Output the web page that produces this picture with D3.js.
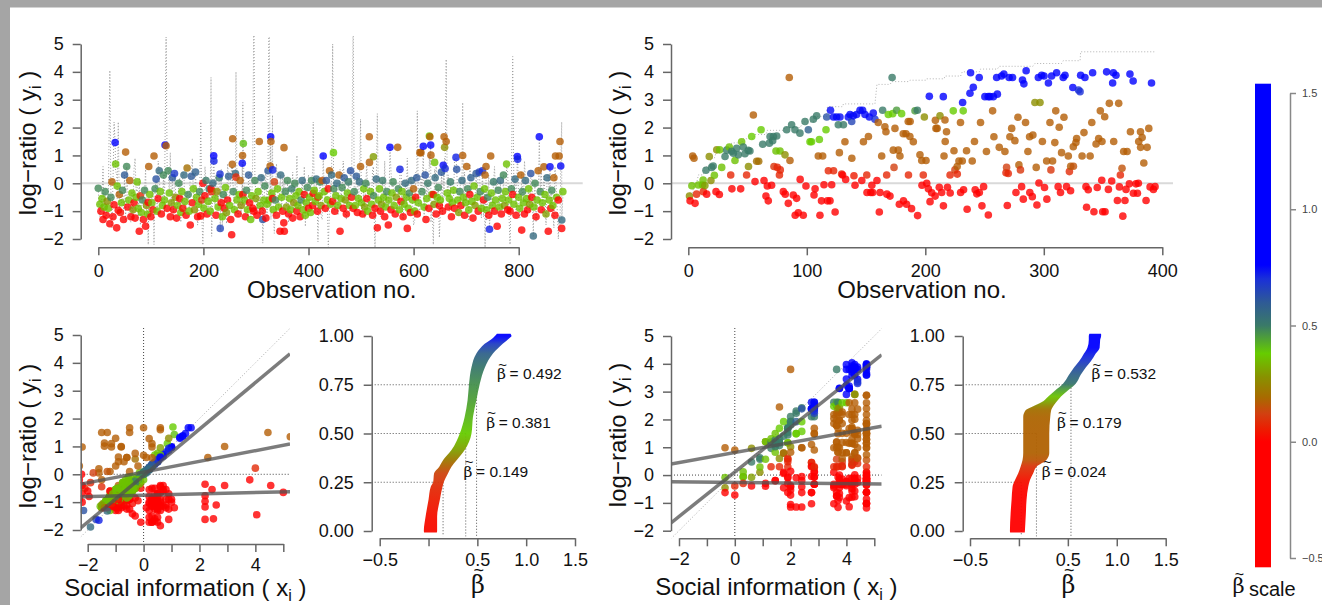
<!DOCTYPE html>
<html>
<head>
<meta charset="utf-8">
<script src="https://cdn.jsdelivr.net/npm/d3@7/dist/d3.min.js"></script>
<style>
html,body{margin:0;padding:0;background:#a5a5a5;overflow:hidden;}
svg{display:block;}
</style>
</head>
<body>
<svg id="chart" width="1322" height="605"></svg>
<script>
// ===================== DATA =====================
// rows: [observation no., log-ratio y, social information x, beta-tilde]
const leftPoints = [
[0,-0.18,-0.3,0.48],[3,-0.75,-1.2,0.36],[5,-1.0,-0.8,-0.05],[7,-0.55,-0.5,0.36],[9,-1.3,0.6,-0.05],[11,-0.85,-1.1,0.36],
[13,-0.3,-0.3,0.48],[15,-1.15,-1.2,-0.05],[17,-0.65,-0.8,0.27],[19,-0.9,-0.7,0.36],[22,-1.45,4.05,-0.05],[24,-0.5,-0.5,0.48],
[26,0.05,-1.6,0.17],[28,-1.2,0.1,0.0],[30,-0.77,2.2,-0.05],[32,1.46,1.5,0.78],[33,0.69,0.4,0.36],[35,-1.6,0.4,-0.05],
[36,-0.1,-0.55,0.36],[38,-0.97,2.2,-0.05],[40,-0.4,-0.9,0.17],[42,-1.05,-0.4,0.02],[44,-0.7,-0.7,0.36],[46,-0.25,-0.3,0.48],
[48,-1.3,-1.0,-0.05],[50,0.3,0.3,0.6],[52,1.12,-1.4,0.17],[54,0.6,0.6,0.48],[56,-0.85,-0.3,-0.05],[58,-0.6,-1.0,0.36],
[60,0.1,-1.2,0.17],[62,-1.2,-1.4,-0.05],[64,-0.35,-0.3,0.36],[66,-0.95,-1.15,0.27],[68,-0.7,0.5,-0.05],[70,-1.25,0.9,-0.05],
[72,-0.5,-0.3,0.36],[74,0.05,-0.15,0.36],[76,-0.9,-1.25,0.36],[78,-1.72,0.2,-0.05],[80,-0.45,-1.5,0.08],[82,-1.05,-1.0,0.36],
[84,-0.6,-0.5,0.48],[86,-1.3,-0.9,-0.05],[88,-0.25,-0.3,0.48],[90,-1.54,0.5,-0.05],[92,-0.8,-1.2,0.27],[94,-1.1,-1.0,0.36],
[95,-0.68,-2.2,-0.05],[96,0.6,-0.6,0.17],[98,-0.4,-0.65,0.36],[100,-1.2,-1.1,-0.05],[102,-0.7,-0.5,0.36],[104,-0.95,-0.2,0.02],
[106,0.98,-2.2,0.17],[108,-0.2,-0.3,0.48],[110,0.15,0.1,0.62],[112,-1.0,-1.1,0.36],[114,-0.55,0.8,-0.05],[116,0.45,0.4,0.55],
[118,-0.3,-0.7,0.36],[120,-1.1,-0.6,-0.05],[122,-0.8,-0.8,0.36],[124,0.3,0.3,0.48],[126,-0.6,-1.05,0.36],[127,1.37,1.4,0.78],
[129,1.35,5.25,0.17],[131,-0.9,0.6,-0.05],[133,0.45,0.5,0.48],[135,-0.35,-0.3,0.36],[137,-1.2,1.1,-0.05],[139,-0.7,-0.95,0.3],
[141,0.2,0.2,0.6],[143,-0.95,-1.3,-0.05],[145,0.35,0.4,0.68],[147,-0.5,-0.3,0.27],[149,-1.25,-0.6,-0.05],[151,-0.8,-0.9,0.36],
[153,0.0,0.0,0.48],[155,-0.55,0.2,-0.05],[157,-1.05,-1.4,0.36],[159,-0.3,-0.3,0.36],[161,-0.9,0.4,0.02],[163,0.3,0.3,0.55],
[165,-0.65,-1.1,0.36],[167,-1.15,-0.7,-0.05],[169,0.55,-0.3,0.2],[171,-0.4,-0.5,0.48],[173,-1.0,-0.9,0.36],[175,-1.5,0.3,-0.05],
[177,0.25,0.3,0.6],[179,-0.7,0.9,-0.05],[181,-0.2,-0.5,0.36],[183,-0.95,-0.7,0.27],[185,0.4,0.4,0.58],[187,-0.5,-0.65,0.36],
[189,-1.2,-1.5,-0.05],[191,-0.75,-1.1,0.36],[193,-0.3,-0.3,0.48],[195,-1.17,2.2,-0.05],[197,-0.6,-1.2,0.1],[199,0.0,-2.22,-0.02],
[201,-0.9,-0.85,0.36],[203,-0.45,0.6,-0.05],[205,0.1,0.1,0.5],[207,-1.1,-1.0,-0.05],[209,-0.65,-1.1,0.36],[211,-0.2,-0.2,0.5],
[213,-1.0,-0.9,0.36],[214.5,-0.2,3.8,-0.05],[215.7,-0.3,-1.9,0.07],[218,0.0,0.0,0.55],[219.6,0.99,1.0,0.78],[220,0.8,0.8,0.72],
[222,-0.55,-0.8,0.36],[224,-1.15,0.3,-0.05],[226,-0.3,-0.1,0.27],[228,-0.85,-1.0,0.36],[230,0.2,0.2,0.5],[231.6,0.33,0.3,0.7],
[232,-1.62,-1.7,0.65],[234,-0.7,0.5,-0.05],[236,-1.2,-1.5,0.36],[238,-0.4,-0.4,0.48],[240,-0.9,-0.5,-0.05],[242,-0.15,-0.2,0.36],
[244,-1.05,-1.45,0.3],[246,-0.6,0.7,-0.05],[248,0.25,0.2,0.58],[250,-0.8,-0.7,0.36],[252,-1.3,0.2,-0.05],[253.8,-1.85,0.6,-0.05],
[255,0.68,0.0,0.17],[255.7,1.6,0.6,0.17],[257,-0.3,-0.3,0.48],[259,-0.95,-1.15,0.36],[261,0.35,0.3,0.55],[262,0.22,4.0,0.08],
[264,-0.6,-0.4,0.36],[266,-1.1,-1.2,-0.05],[268,-0.4,-0.55,0.36],[270,0.1,-0.5,0.17],[272,-0.8,-1.2,0.27],[274,0.72,0.7,0.75],
[274.5,1.0,-0.8,0.17],[275,-0.4,2.9,-0.05],[276,1.43,1.1,0.4],[278,-0.6,-0.6,0.36],[280,-1.2,-0.8,-0.05],[282,-0.25,-0.3,0.48],
[284,-0.95,-1.35,0.36],[286,0.3,0.3,0.6],[288,-0.7,0.4,-0.05],[290,-1.3,-1.2,0.36],[292,-0.45,-0.7,0.36],[294,-0.9,1.0,-0.05],
[296,-1.0,6.5,-0.05],[298,0.1,0.1,0.48],[300,-0.55,-0.35,0.3],[302,-1.15,-1.1,-0.05],[304,-0.3,-0.45,0.36],[306.4,1.5,-0.5,0.17],
[308,-0.8,-1.15,0.36],[310,0.2,0.2,0.55],[312,-1.0,0.3,-0.05],[313,-1.3,-2.15,0.62],[315,-0.6,-0.6,0.36],[317,-0.1,-0.1,0.48],
[319,-1.25,0.5,-0.05],[321,-0.75,-1.2,0.36],[323,0.45,0.5,0.6],[325,-0.6,7.2,0.36],[327,0.62,-0.9,0.17],[328,1.67,1.7,0.78],
[328.5,1.5,-1.3,0.17],[330,-0.35,-0.3,0.36],[331.5,-0.55,2.45,-0.05],[331.8,0.48,0.5,0.72],[333,-0.95,-1.15,0.36],[335,0.05,-1.8,0.12],
[337,-0.6,-0.6,0.48],[339,-1.15,0.7,-0.05],[341,-0.2,0.0,0.36],[343,-0.85,-0.95,0.36],[345.8,-1.72,-0.1,-0.05],[347,0.3,0.3,0.55],
[349,-0.5,-0.9,0.36],[351,-1.0,0.2,0.0],[353,-1.42,-0.4,-0.05],[353.4,1.28,0.2,0.17],[354,-1.72,0.3,-0.05],[356,-0.3,-0.3,0.48],
[358,-0.85,-0.8,0.3],[360,0.1,0.1,0.48],[362,-1.1,-1.4,-0.05],[364,-0.55,-1.0,0.36],[366,-0.95,-0.85,0.36],[368,-0.2,-0.2,0.5],
[370,-1.25,0.4,-0.05],[372,-0.7,-0.95,0.27],[374,0.0,-0.1,0.48],[376,-0.45,-0.25,0.36],[378,-1.0,1.0,-0.05],[380,-0.8,-0.9,0.36],
[382,-0.3,-0.7,0.36],[384,-1.2,-0.9,-0.05],[386,-0.6,-0.6,0.48],[388,0.1,0.1,0.55],[390,-0.95,-0.9,0.36],[392,-0.4,0.6,-0.05],
[394,-1.15,-1.55,0.36],[396,-0.7,-0.6,0.36],[398,-0.15,-0.2,0.48],[400,-0.9,0.3,-0.05],[402,-0.5,-0.75,0.36],[404,-1.05,-0.8,0.36],
[406,0.1,0.0,0.48],[408,-0.8,0.5,0.0],[409,-0.36,2.2,-0.05],[411,-0.25,-0.45,0.36],[413,-0.65,-1.05,0.36],[415,0.15,0.2,0.55],
[417,-1.0,-1.2,-0.05],[418,-0.5,-2.1,0.1],[420,-0.45,-0.45,0.36],[422,0.05,0.0,0.48],[424,-0.8,-1.2,0.3],[426,0.1,-1.3,0.15],
[428,0.98,1.0,0.78],[430,-0.3,-0.25,0.36],[432,-0.9,-0.5,-0.05],[434,0.1,0.1,0.6],[436,-0.6,-0.85,0.36],[437.7,-0.2,-2.3,0.0],
[440,0.45,-0.9,0.17],[442,-0.75,-0.55,0.36],[444,0.3,0.3,0.55],[446,-0.65,5.0,-0.05],[447.5,1.1,0.85,0.38],[448,-0.2,-0.2,0.48],
[450,-1.0,-1.0,-0.05],[452,-0.45,-0.6,0.36],[454,0.0,0.0,0.55],[456,-0.8,-1.15,0.36],[458,0.3,-0.2,0.17],[460,-1.72,0.5,-0.05],
[462,-0.55,-0.55,0.36],[464,-0.15,-0.2,0.48],[466,-0.9,0.8,-0.05],[468,0.2,0.2,0.6],[470,-0.6,-1.05,0.3],[472,-1.1,-1.3,-0.05],
[474,-0.35,-0.3,0.36],[476,0.05,0.0,0.5],[478,-0.8,-1.0,0.36],[480,0.45,0.5,0.62],[482,-0.5,-0.1,0.02],[485,-0.9,6.0,-0.05],
[487,-0.3,-0.3,0.48],[489,-0.8,-0.55,0.36],[491,0.25,0.2,0.6],[493,-1.05,0.3,-0.05],[495,-0.55,-0.7,0.36],[497,0.05,0.1,0.55],
[499,0.6,2.3,0.17],[501,-0.7,-1.1,0.36],[503,-1.1,-0.8,-0.05],[505,-0.2,-0.25,0.36],[507,-0.85,-1.25,0.3],[509,0.0,0.0,0.48],
[511,-0.55,0.7,-0.05],[513,-1.0,-0.9,0.36],[515.7,1.67,0.0,0.17],[516,0.75,-0.3,0.17],[518,-0.3,-0.55,0.36],[520,-0.75,-0.5,0.36],
[522,-1.15,0.5,-0.05],[523.5,0.95,0.6,0.3],[524,-0.45,-0.5,0.48],[526.6,-0.9,-2.3,-0.05],[529,0.15,0.1,0.55],[531,-1.6,2.5,-0.05],
[533,-0.6,-0.75,0.36],[535,-0.2,-0.65,0.36],[537,-1.0,-1.2,-0.05],[539,-0.75,-0.75,0.3],[541,0.1,0.1,0.5],[543,-0.5,-0.95,0.36],
[545,-1.2,0.8,-0.05],[547,-0.85,-0.75,0.36],[549,-0.3,-0.4,0.48],[551.9,-1.5,-0.3,-0.05],[553,-0.6,-0.85,0.36],[555,1.29,1.3,0.78],
[557,-0.95,0.4,-0.05],[559,-0.35,-0.15,0.36],[561,0.05,0.0,0.48],[563,-0.8,-0.9,0.36],[565,-1.1,-0.9,-0.05],[567,-0.5,-0.9,0.3],
[569.7,1.29,-1.0,0.17],[571,-0.2,-0.2,0.48],[573,-0.95,-0.9,0.36],[574,0.5,0.5,0.72],[576,-0.65,0.6,-0.05],[578,-0.3,-0.75,0.36],
[580,-1.2,-1.3,-0.05],[582,-0.75,-0.7,0.36],[584,0.0,0.0,0.55],[586,-0.5,-0.75,0.36],[588,-1.62,0.9,-0.05],[590,-0.9,-0.65,0.36],
[592,-0.35,-0.4,0.48],[594,-1.05,0.2,-0.05],[596,0.1,0.1,0.55],[598,-0.6,-0.75,0.36],[600,-0.2,-1.5,0.17],[602,-1.0,-1.35,0.36],
[604,-0.5,0.4,-0.05],[606,0.2,0.2,0.6],[607,-1.1,2.6,-0.05],[609,-0.7,-0.7,0.36],[612,1.1,-1.15,0.17],[614,1.1,0.3,0.17],
[616,-0.3,-0.3,0.48],[618.5,1.33,1.3,0.78],[620,-0.85,-1.25,0.36],[622,0.3,0.3,0.62],[623.6,-1.3,0.5,-0.05],[625,-0.55,-0.5,0.36],
[627,0.0,0.0,0.5],[629,-0.9,-0.6,-0.05],[630,1.7,1.05,0.38],[631,1.67,0.6,0.17],[632.5,1.37,1.4,0.78],[633,1.01,-1.4,0.17],
[635,-0.4,-0.65,0.36],[637.5,-0.4,-2.2,-0.05],[639,-0.75,-0.55,0.3],[640,0.75,0.5,0.36],[641,0.2,0.2,0.55],[643,-1.1,0.6,-0.05],
[645,-0.5,-0.65,0.36],[647,-0.15,-0.2,0.48],[649,-0.8,-1.95,-0.05],[651,-0.6,-1.0,0.36],[653,0.4,0.4,0.6],[655,-1.0,-1.1,-0.05],
[656.5,0.65,0.7,0.75],[658,1.67,-0.5,0.17],[659,1.29,0.9,0.27],[660,0.53,0.5,0.7],[662,1.5,4.45,0.17],[664,-0.35,-0.35,0.36],
[666,-0.85,0.3,-0.05],[668,-0.55,-1.0,0.36],[670,0.05,0.0,0.5],[672,-1.2,-1.0,-0.05],[674,-0.7,-0.65,0.36],[676,-0.25,-0.55,0.36],
[678,-0.9,0.9,-0.05],[680.7,0.93,0.9,0.72],[682,0.5,0.5,0.62],[684,-0.6,-0.4,0.36],[686,-1.05,-1.15,0.3],[688,-0.3,-0.3,0.48],
[690,-0.8,0.2,-0.05],[692,0.1,0.1,0.55],[693.4,1.0,2.9,0.17],[695,-0.5,-0.9,0.36],[697,-1.15,0.4,-0.05],[699,-0.7,-0.7,0.36],
[701,0.6,-0.6,0.17],[703,-0.2,-0.2,0.48],[705,-0.95,-1.35,0.36],[707,-0.4,0.7,-0.05],[709,0.2,0.2,0.58],[711,-0.65,-0.6,0.36],
[713,-1.25,-0.5,-0.05],[715,-0.1,-0.4,0.36],[717,-0.8,-0.55,0.3],[719,0.35,0.3,0.6],[721,-0.5,-0.65,0.36],[723,-1.0,0.5,-0.05],
[725,0.4,0.4,0.65],[727,-0.3,-0.3,0.48],[729,-0.9,-1.25,0.36],[731,0.45,0.5,0.7],[733,-0.6,-1.2,-0.05],[735,-0.2,-0.25,0.36],
[736,0.3,-2.3,0.17],[737.8,0.6,0.1,0.17],[739,-0.95,-1.35,0.36],[741,-0.5,-0.5,0.48],[743,-1.15,0.3,-0.05],[744.4,-1.65,-1.6,0.72],
[746.7,0.98,-0.8,0.17],[748,-0.35,-0.3,0.36],[750,-0.8,-1.0,0.36],[752,0.05,0.0,0.5],[754,-1.0,0.6,-0.05],[756,-0.6,-0.4,0.36],
[759,-1.54,0.2,-0.05],[761,-0.25,-0.3,0.48],[763,-0.85,-0.95,0.36],[765,0.1,0.1,0.55],[767,-1.1,-0.8,-0.05],[769,-0.55,-0.95,0.36],
[771,0.3,0.3,0.48],[773,-0.8,-0.75,0.3],[775,-0.3,-0.75,0.36],[777,0.69,0.6,0.36],[779,-0.95,0.4,-0.05],[781,-0.6,-0.85,0.36],
[783.5,-1.0,-2.2,-0.05],[786,-0.2,-0.2,0.48],[788.6,-0.4,4.55,-0.05],[791,-0.75,-0.55,0.36],[793,0.15,0.2,0.55],[795,-1.15,-1.1,-0.05],
[797.4,0.96,1.0,0.78],[798,0.86,0.9,0.72],[800,-0.5,-0.65,0.36],[802,-0.9,-1.25,0.36],[804,0.3,-1.0,0.17],[805.7,-1.68,0.4,-0.05],
[807,-0.3,-0.3,0.48],[809,-0.7,-0.7,0.36],[811,-1.1,0.8,-0.05],[813,0.1,0.1,0.55],[815,-0.55,-1.0,0.36],[817,-0.95,-0.6,-0.05],
[819,-0.2,-0.2,0.36],[821,-0.75,-1.0,0.3],[823,0.35,0.3,0.62],[825,-0.5,0.3,-0.05],[827.8,-1.89,-1.9,0.55],[829,-0.85,-0.6,0.36],
[831,0.0,0.0,0.48],[833,-1.2,-1.4,-0.05],[835,-0.6,-0.75,0.36],[837,0.45,-0.7,0.17],[839.2,1.67,1.6,0.8],[841,-0.3,-0.3,0.48],
[843,-0.95,0.5,-0.05],[845,-0.7,-1.1,0.36],[848,0.59,0.3,0.17],[850,-0.4,-0.4,0.36],[852,-1.1,-1.5,0.3],[854,0.2,0.2,0.55],
[856.3,-1.72,0.3,-0.05],[858,-0.6,-0.55,0.36],[859.6,0.59,0.6,0.75],[861,-0.9,-0.9,-0.05],[863,-0.25,-0.3,0.48],[865,-0.8,-1.0,0.36],
[867,0.2,-1.6,0.17],[869,-1.15,0.6,-0.05],[870,0.98,0.3,0.17],[872,-0.5,-0.3,0.36],[875.4,-0.6,-2.0,-0.05],[877,0.98,-1.15,0.17],
[878.6,1.5,-1.5,0.17],[880,0.62,0.6,0.75],[881.8,-1.62,2.2,-0.05],[882,-1.32,-1.3,0.55],[884,-0.3,-0.5,0.36]
];
const rightPoints = [
[1,-0.46,-0.35,0.27],[1.5,-0.63,-0.35,-0.05],[3,-0.09,-0.35,0.36],[3.7,0.98,-0.35,0.17],[4.8,0.9,0.0,0.17],[5.7,-0.72,0.0,-0.05],
[7,-0.39,0.0,0.07],[8.5,-0.06,0.3,0.36],[12,-0.06,0.3,0.36],[12.5,0.12,0.3,0.36],[12.7,-0.3,0.3,0.07],[14,-0.08,0.6,0.3],
[14.9,0.47,0.6,0.5],[15.5,-0.39,0.6,-0.05],[17.7,0.96,0.6,0.27],[19.1,0.1,0.9,0.27],[19.7,0.57,0.9,0.5],[21,0.62,0.9,0.5],
[22,0.29,0.9,0.36],[23.4,-0.3,1.1,-0.05],[24,1.2,1.1,0.27],[26.2,-0.4,1.1,-0.05],[26.5,1.2,1.1,0.36],[28.2,0.57,1.1,0.36],
[31,0.96,1.3,0.5],[32.4,1.19,1.3,0.5],[34.6,1.3,1.3,0.36],[35.8,0.3,1.3,0.07],[36.6,1.15,1.45,0.5],[36.8,-0.2,1.45,-0.05],
[38,1.08,1.45,0.5],[39.4,0.82,1.45,0.36],[40.8,1.26,1.45,0.5],[42.2,1.02,1.45,0.5],[44.2,-0.2,1.45,-0.05],[45,1.49,1.45,0.36],
[46.4,1.3,1.6,0.5],[47.8,1.06,1.6,0.5],[49.2,0.3,1.6,0.07],[50.6,1.18,1.6,0.5],[50.8,0.6,1.6,0.27],[52,1.16,1.6,0.5],
[53.5,1.68,1.6,0.38],[54.9,2.45,1.6,0.17],[56.3,0.06,1.75,-0.02],[57.7,0.79,1.75,0.2],[59.4,0.79,1.75,0.2],[61.4,1.92,1.75,0.38],
[62.8,1.4,1.75,0.5],[63.9,0.1,1.75,-0.02],[65.5,-0.46,1.75,-0.05],[66.7,-0.1,1.9,-0.05],[67.5,-0.63,1.9,-0.05],[68.4,1.44,1.9,0.5],
[69,1.68,1.9,0.5],[70.3,-0.07,1.9,-0.05],[71.2,1.53,1.9,0.5],[71.8,1.68,1.9,0.5],[72.3,0.6,1.9,0.1],[74,1.16,1.9,0.36],
[74.6,1.7,1.9,0.5],[75.1,0.57,1.9,0.07],[76.9,0.3,1.9,0.07],[77.4,1.16,1.9,0.36],[77.6,0.48,1.9,0.07],[80.2,-0.3,1.9,-0.05],
[81.6,1.02,2.0,0.27],[81.8,-0.39,2.0,-0.05],[83,1.92,2.0,0.5],[84.4,-0.72,2.0,-0.05],[85.2,3.8,2.0,0.17],[85.8,0.82,2.0,0.17],
[87.2,2.1,2.0,0.5],[88.6,-0.42,2.0,-0.05],[90,1.92,2.0,0.5],[90.2,-1.15,2.0,-0.05],[91.4,-0.54,2.0,-0.05],[92.8,-1.06,2.0,-0.05],
[94.2,1.8,2.0,0.5],[94.4,0.14,2.0,-0.02],[97,-1.15,2.2,-0.05],[98.5,2.22,2.2,0.5],[99.3,-0.1,2.2,-0.05],[101.3,1.92,2.2,0.58],
[102.7,1.49,2.2,0.38],[104,1.49,2.2,0.38],[105.5,2.3,2.2,0.5],[106.1,-0.42,2.4,-0.05],[107,-0.2,2.4,-0.05],[108.3,2.42,2.4,0.5],
[109.7,0.98,2.4,0.17],[110.6,1.57,2.4,0.38],[111.1,-1.15,2.4,-0.05],[112.4,-0.63,2.4,-0.05],[113.4,0.98,2.4,0.17],[114.5,-0.05,2.4,-0.05],
[116.2,1.92,2.4,0.38],[116.8,2.38,2.4,0.62],[117.4,-0.63,2.75,-0.05],[118.2,0.45,2.75,0.07],[119.6,-0.63,2.75,-0.05],[120,2.62,2.75,0.75],
[121,-0.05,2.75,-0.05],[122.5,2.38,2.75,0.75],[122.6,0.45,2.75,0.07],[123.9,-1.03,2.75,-0.05],[125.2,2.38,2.75,0.75],[126.6,2.1,2.75,0.5],
[127.5,1.1,2.75,0.17],[128,2.38,2.75,0.75],[129.4,0.33,2.75,0.07],[130.2,0.3,2.75,-0.02],[130.9,2.1,2.85,0.5],[132.2,1.49,2.85,0.17],
[132.8,0.14,2.85,-0.02],[135,2.38,2.85,0.75],[136.5,2.47,2.85,0.75],[137.9,2.22,2.85,0.65],[138,0.9,2.85,0.17],[139.3,2.42,2.85,0.75],
[139.8,0.27,2.85,0.05],[140.7,-0.07,2.85,-0.05],[142,2.47,2.85,0.75],[144.9,2.62,2.85,0.75],[146.4,0.1,2.85,-0.05],[147.1,2.62,2.85,0.75],
[147.8,1.49,2.85,0.17],[149.1,2.47,2.85,0.75],[150.6,0.3,2.85,0.07],[150.8,-0.33,2.85,-0.05],[152,1.68,2.85,0.17],[152.8,2.38,2.85,0.75],
[154,-0.33,2.85,-0.05],[154.9,-0.07,2.85,-0.05],[155.6,-0.33,2.85,-0.05],[156.1,2.52,2.85,0.75],[157.5,2.3,2.85,0.7],[159.2,0.1,3.55,-0.05],
[160.3,2.18,3.55,0.17],[161.2,-1.03,3.55,-0.05],[161.8,-0.33,3.55,-0.05],[163.2,0.98,3.55,0.17],[164,2.62,3.55,0.5],[165.9,2.03,3.55,0.17],
[166.8,1.85,3.55,0.17],[167.4,0.3,3.55,0.07],[167.6,-0.39,3.55,-0.05],[168.8,2.47,3.55,0.38],[170.2,-0.46,3.55,-0.05],[172,3.8,3.65,0.5],
[172.5,2.5,3.65,0.38],[173,1.19,3.65,0.17],[173.6,0.57,3.65,0.12],[174.4,1.97,3.65,0.17],[175.8,2.62,3.65,0.45],[177.2,1.19,3.65,0.17],
[178.1,-0.75,3.65,-0.05],[178.6,0.98,3.65,0.17],[180,2.5,3.65,0.38],[181.4,1.78,3.65,0.17],[181.6,-0.63,3.65,-0.05],[183.7,1.78,3.65,0.17],
[184.2,-0.75,3.65,-0.05],[185.6,2.22,3.65,0.17],[185.8,0.3,3.65,0.07],[187,1.68,3.7,0.17],[187.2,2.22,3.7,0.17],[188.4,-0.91,3.7,-0.05],
[189.9,1.49,3.7,0.17],[191.3,2.6,3.7,0.45],[193.3,2.62,3.7,0.5],[193.5,-1.16,3.7,-0.05],[195.5,1.02,3.7,0.17],[197,0.82,3.7,0.17],
[197.2,-0.07,3.7,-0.05],[198.3,0.3,3.7,0.07],[199.2,2.38,3.7,0.27],[200.6,0.82,3.7,0.17],[201.2,0.0,3.75,-0.05],[202.6,-0.2,3.75,-0.05],
[203.4,3.12,3.75,0.78],[204,-0.66,3.75,-0.05],[205.4,-0.34,3.75,-0.05],[208.3,-0.46,3.75,-0.05],[208.5,2.26,3.75,0.17],[209,1.97,3.75,0.17],
[210,1.97,3.75,0.17],[211.8,-0.14,3.75,-0.05],[212.4,2.42,3.75,0.27],[213.8,-0.33,3.75,-0.05],[215.2,3.11,3.75,0.78],[215.3,-0.81,3.75,-0.05],
[215.8,0.98,3.75,0.17],[216.6,2.27,3.85,0.17],[216.8,1.5,3.85,0.17],[217.9,1.85,3.85,0.17],[218.7,-0.14,3.85,-0.05],[220.9,0.3,3.85,0.07],
[221,-0.35,3.85,-0.05],[223.6,2.6,3.85,0.38],[224.2,1.17,3.85,0.17],[225,0.48,3.85,0.12],[226.9,0.6,3.85,0.17],[227,0.33,3.85,0.07],
[228.4,0.8,3.85,0.17],[229.7,2.18,3.85,0.17],[229.8,-0.33,3.85,-0.05],[231.2,0.8,4.0,0.17],[231.5,2.9,4.0,0.78],[232,2.6,4.0,0.38],
[232.3,-0.23,4.0,-0.05],[234.8,1.17,4.0,0.17],[235.3,-0.93,4.0,-0.05],[237.7,3.23,4.0,0.78],[238.2,3.97,4.0,0.78],[239.6,0.8,4.0,0.17],
[240.5,3.45,4.0,0.78],[241.5,1.5,4.0,0.17],[242.1,-0.23,4.0,-0.05],[243.5,-0.38,4.0,-0.05],[245.5,3.8,4.0,0.78],[245.6,-0.33,4.0,-0.05],
[246.6,2.18,4.1,0.17],[247.8,-0.81,4.1,-0.05],[249.2,-0.12,4.1,-0.05],[250.3,3.11,4.1,0.78],[251.6,1.14,4.1,0.17],[253.1,3.11,4.1,0.78],
[253.2,-1.14,4.1,-0.05],[254.6,3.11,4.1,0.78],[256.8,2.6,4.1,0.17],[257.4,3.11,4.1,0.78],[257.9,1.67,4.1,0.17],[260.2,3.8,4.1,0.78],
[260.8,3.2,4.1,0.78],[262.4,1.29,4.2,0.17],[264.4,3.85,4.2,0.78],[266.3,3.92,4.2,0.78],[267.2,1.14,4.2,0.17],[268.1,0.38,4.2,0.07],
[268.6,0.57,4.2,0.12],[269.2,-0.8,4.2,-0.05],[270,0.35,4.2,0.07],[270.7,3.8,4.2,0.78],[271.4,1.67,4.2,0.17],[272.9,1.97,4.2,0.17],
[273.6,3.8,4.2,0.78],[275.6,1.53,4.2,0.17],[276.5,-0.33,4.2,-0.05],[278.2,2.37,4.2,0.17],[279,0.66,4.2,0.17],[280.3,0.48,4.2,0.1],
[281.3,-0.12,4.2,-0.05],[282,3.71,4.2,0.78],[282.7,-0.57,4.2,-0.05],[283.2,3.57,4.2,0.78],[284.6,2.18,4.2,0.17],[285.1,4.04,4.2,0.78],
[286.6,1.14,4.2,0.17],[288,1.67,4.2,0.17],[288.2,-0.33,4.2,-0.05],[290.3,-0.48,4.2,-0.05],[290.8,1.73,4.2,0.17],[292.5,2.9,4.3,0.27],
[293.6,0.57,4.3,0.17],[294.2,-0.78,4.3,-0.05],[295.4,3.8,4.3,0.78],[295.9,0.01,4.3,-0.05],[296.8,2.9,4.3,0.27],[298.2,3.88,4.3,0.78],
[298.8,1.5,4.3,0.17],[300.2,3.85,4.3,0.78],[300.6,-0.15,4.3,-0.05],[302.4,0.8,4.3,0.17],[302.6,-0.57,4.3,-0.05],[303.9,3.6,4.3,0.78],
[305.2,2.18,4.3,0.17],[306,0.48,4.3,0.1],[306.6,3.85,4.3,0.78],[307.4,0.8,4.3,0.17],[309.3,1.46,4.3,0.17],[310.1,2.6,4.3,0.17],
[310.8,3.97,4.3,0.78],[312.1,-0.12,4.3,-0.05],[313,2.01,4.3,0.17],[314.1,-0.33,4.3,-0.05],[315,1.1,4.3,0.17],[316.4,3.8,4.4,0.78],
[317,2.37,4.4,0.17],[317.9,3.88,4.4,0.78],[319.2,-0.12,4.4,-0.05],[320.7,0.98,4.4,0.17],[321.6,0.42,4.4,0.08],[322.6,-0.27,4.4,-0.05],
[322.7,0.61,4.4,0.17],[324.5,3.44,4.4,0.78],[324.9,1.31,4.4,0.17],[325,0.61,4.4,0.15],[327.1,1.46,4.4,0.17],[327.7,1.61,4.4,0.17],
[329.3,3.35,4.4,0.7],[330.6,3.29,4.4,0.7],[331.1,3.88,4.72,0.78],[332.3,0.98,4.72,0.17],[333.9,1.82,4.72,0.17],[334.7,3.8,4.72,0.78],
[335.6,-0.12,4.72,-0.05],[336.1,-0.86,4.72,-0.05],[337.5,-0.23,4.72,-0.05],[339.1,0.98,4.72,0.17],[340.5,2.18,4.72,0.17],[341.2,3.97,4.72,0.78],
[342.3,-1.02,4.72,-0.05],[344.1,1.41,4.72,0.17],[345.1,-0.15,4.72,-0.05],[346.3,1.61,4.72,0.17],[347.7,2.6,4.72,0.17],[348.9,0.11,4.72,-0.05],
[349.1,1.5,4.72,0.17],[349.7,-1.02,4.72,-0.05],[351.4,2.39,4.72,0.17],[351.7,-1.02,4.72,-0.05],[353,4.0,4.72,0.78],[354.5,-0.22,4.72,-0.05],
[355.3,2.87,4.72,0.17],[357.3,0.08,4.72,-0.05],[358.1,3.6,4.72,0.78],[358.7,3.97,4.72,0.78],[359,1.5,4.72,0.17],[360.9,3.88,4.72,0.78],
[362.1,-0.62,4.72,-0.05],[363.2,2.87,4.72,0.17],[363.8,-0.13,4.72,-0.05],[364.6,0.3,4.72,0.07],[366,0.54,4.72,0.15],[366.7,-1.18,4.72,-0.05],
[367.4,1.14,4.72,0.17],[368.5,-0.62,4.72,-0.05],[369.4,-0.22,4.72,-0.05],[370.3,1.14,4.72,0.17],[372.2,-0.02,4.72,-0.05],[372.7,3.92,4.72,0.78],
[373.1,1.85,4.72,0.17],[375.4,3.67,4.72,0.78],[375.6,-0.36,4.72,-0.05],[377.8,-0.02,4.72,-0.05],[379,-0.36,4.72,-0.05],[379.8,0.0,4.72,-0.05],
[380.1,1.5,4.72,0.17],[381.6,1.85,4.72,0.17],[381.7,1.29,4.72,0.17],[383,1.64,4.72,0.17],[384.4,0.73,4.72,0.17],[386.3,-0.62,4.72,-0.05],
[387.2,1.29,4.72,0.17],[388.6,1.97,4.72,0.17],[389.7,-0.13,4.72,-0.05],[390.9,3.6,4.72,0.78],[392.5,-0.22,4.72,-0.05],[393.9,-0.12,4.72,-0.05]
];
// quantile bands: [cumulative proportion, beta-tilde left edge, beta-tilde right edge]
const leftBand = [
[-0.008,-0.045,0.085],[0.0,-0.048,0.088],[0.074,-0.03,0.088],[0.16,0.0,0.116],[0.227,0.023,0.143],[0.25,0.047,0.156],
[0.296,0.057,0.2],[0.33,0.11,0.235],[0.364,0.15,0.29],[0.415,0.235,0.37],[0.5,0.32,0.44],[0.585,0.37,0.455],
[0.67,0.40,0.49],[0.755,0.415,0.525],[0.84,0.44,0.578],[0.91,0.49,0.66],[0.96,0.575,0.76],[0.99,0.66,0.83],
[1.0,0.68,0.85],[1.012,0.70,0.84]
];
const rightBand = [
[-0.008,-0.09,0.06],[0.0,-0.092,0.061],[0.09,-0.085,0.071],[0.16,-0.075,0.078],[0.227,-0.065,0.095],[0.26,-0.041,0.112],
[0.296,-0.007,0.146],[0.33,0.017,0.18],[0.364,0.037,0.28],[0.4,0.044,0.31],[0.5,0.044,0.31],[0.585,0.044,0.32],
[0.62,0.07,0.33],[0.64,0.146,0.35],[0.66,0.23,0.38],[0.69,0.3,0.43],[0.72,0.37,0.5],[0.755,0.45,0.58],
[0.8,0.51,0.63],[0.84,0.565,0.685],[0.87,0.615,0.735],[0.91,0.665,0.785],[0.94,0.7,0.825],[0.98,0.714,0.83],
[1.0,0.714,0.84],[1.012,0.72,0.84]
];
const leftMedians = [[0.25,0.149],[0.5,0.381],[0.75,0.492]];   // [quantile, beta-tilde]
const rightMedians = [[0.25,0.024],[0.5,0.179],[0.75,0.532]];
const leftFits = [[-0.05,0.835],[0.08,0.192],[-0.75,0.024]];   // [intercept, slope]
const rightFits = [[0.11,0.80],[0.81,0.18],[-0.264,-0.0106]];
const colorStops = [-0.5,0.0,0.05,0.12,0.19,0.28,0.38,0.5,0.6,0.7,0.76,1.5];
const colorValues = ['#ff0000','#ff0000','#ee1a00','#d24010','#a86a00','#889200','#66cc00','#3a7a68','#2e5a96','#1a30d8','#0000ff','#0000ff'];
const obsTicksLeft = [0,200,400,600,800];
const obsTicksRight = [0,100,200,300,400];
const logTicks = [-2,-1,0,1,2,3,4,5];
const socialTicks = [-2,-1,0,1,2,3,4,5];
const socialLabels = [-2,0,2,4];
const probTicks = [0,0.25,0.5,0.75,1];
const betaTicks = [-0.5,0,0.5,1,1.5];
const betaTickLabels = ['\u22120.5','','0.5','1.0','1.5'];
const scaleTicks = [-0.5,0,0.5,1,1.5];
const scaleTickLabels = ['\u22120.5','0.0','0.5','1.0','1.5'];

// ===================== RENDER =====================
const SANS = '"Liberation Sans", Arial, Helvetica, sans-serif';
const SERIF = '"DejaVu Serif", "Liberation Serif", serif';
const svg = d3.select('#chart').attr('font-family', SANS);
const defs = svg.append('defs');
svg.append('rect').attr('x',10).attr('y',7.5).attr('width',1312).attr('height',597.5).attr('fill','#ffffff');
const col = d3.scaleLinear().domain(colorStops).range(colorValues).clamp(true);

let clipN = 0;
function clip(R){
  const id = 'cp' + (clipN++);
  defs.append('clipPath').attr('id',id).append('rect')
    .attr('x',R.x0).attr('y',R.y0).attr('width',R.x1-R.x0).attr('height',R.y1-R.y0);
  return `url(#${id})`;
}
function styleAxis(g){
  g.attr('font-size',18).attr('font-family',SANS);
  g.select('.domain').attr('stroke','#666').attr('stroke-width',1.5);
  g.selectAll('.tick line').attr('stroke','#666').attr('stroke-width',1.5);
  g.selectAll('.tick text').attr('fill','#111');
}
function yTitle(x, y, sub){
  const t = svg.append('text').attr('transform',`translate(${x},${y}) rotate(-90)`)
    .attr('text-anchor','middle').attr('font-size',24).attr('fill','#111');
  t.append('tspan').text('log\u2212ratio ( y');
  t.append('tspan').attr('font-size',16).attr('dy',5).text(sub);
  t.append('tspan').attr('dy',-5).text('\u00a0)');
}
function xTitleSocial(x, y){
  const t = svg.append('text').attr('x',x).attr('y',y).attr('text-anchor','middle').attr('font-size',24).attr('fill','#111');
  t.append('tspan').text('Social information ( x');
  t.append('tspan').attr('font-size',16).attr('dy',5).text('i');
  t.append('tspan').attr('dy',-5).text('\u00a0)');
}
// beta with a tilde above it; cx = centre of beta, baseline = text baseline, tildeY = centre height of tilde
function betaTilde(g, cx, baseline, size, tildeY, tsize){
  g.append('text').attr('x',cx).attr('y',baseline).attr('text-anchor','middle')
    .attr('font-family',SERIF).attr('font-size',size).attr('fill','#111').text('\u03b2');
  g.append('text').attr('x',cx+1).attr('y',tildeY + tsize*0.33).attr('text-anchor','middle')
    .attr('font-family',SANS).attr('font-size',tsize).attr('fill','#111').text('~');
}

// ---- observation panels ----
function obsPanel(pts, R, x, y, xticks, dotColor){
  const cp = clip(R);
  const g = svg.append('g');
  g.append('line').attr('x1',R.x0).attr('x2',R.x1).attr('y1',y(0)).attr('y2',y(0))
    .attr('stroke','#d9d9d9').attr('stroke-width',2);
  const sorted = pts.slice().sort((a,b)=>a[0]-b[0]);
  g.append('path').datum(sorted).attr('clip-path',cp)
    .attr('d', d3.line().x(d=>x(d[0])).y(d=>y(d[2])))
    .attr('fill','none').attr('stroke',dotColor).attr('stroke-width',1).attr('stroke-dasharray','1,2');
  g.append('g').attr('clip-path',cp).selectAll('circle').data(pts).join('circle')
    .attr('cx',d=>x(d[0])).attr('cy',d=>y(d[1])).attr('r',3.8)
    .attr('fill',d=>col(d[3])).attr('fill-opacity',0.8);
  g.append('g').attr('transform',`translate(${R.x0},0)`)
    .call(d3.axisLeft(y).tickValues(logTicks).tickFormat(d3.format('d')).tickSize(8).tickSizeOuter(0).tickPadding(9))
    .call(styleAxis);
  g.append('g').attr('transform',`translate(0,${R.y1})`)
    .call(d3.axisBottom(x).tickValues(xticks).tickFormat(d3.format('d')).tickSize(8).tickSizeOuter(0).tickPadding(8.5))
    .call(styleAxis);
  svg.append('text').attr('x',(R.x0+R.x1)/2).attr('y',298).attr('text-anchor','middle')
    .attr('font-size',24).attr('fill','#111').text('Observation no.');
}
const RA = {x0:80.7, x1:582.7, y0:36, y1:247.3};
const RB = {x0:671, x1:1173, y0:36, y1:247.3};
const xA = d3.scaleLinear().domain([0,800]).range([98.3,518.7]);
const yA = d3.scaleLinear().domain([-2,5]).range([239,44]);
const xB = d3.scaleLinear().domain([0,400]).range([688.3,1162.3]);
obsPanel(leftPoints, RA, xA, yA, obsTicksLeft, '#9c9c9c');
obsPanel(rightPoints, RB, xB, yA, obsTicksRight, '#b0b0b0');
yTitle(36, 143, 'i');
yTitle(626, 143, 'i');

// ---- scatter panels ----
function scatterPanel(pts, fits, R, x, y){
  const cp = clip(R);
  const g = svg.append('g');
  const lo = x.invert(R.x0), hi = x.invert(R.x1);
  const gl = g.append('g').attr('clip-path',cp);
  gl.append('line').attr('x1',x(0)).attr('x2',x(0)).attr('y1',R.y0).attr('y2',R.y1)
    .attr('stroke','#444').attr('stroke-width',1).attr('stroke-dasharray','1,2');
  gl.append('line').attr('x1',R.x0).attr('x2',R.x1).attr('y1',y(0)).attr('y2',y(0))
    .attr('stroke','#444').attr('stroke-width',1).attr('stroke-dasharray','1,2');
  gl.append('line').attr('x1',x(lo)).attr('y1',y(lo)).attr('x2',x(hi)).attr('y2',y(hi))
    .attr('stroke','#aaa').attr('stroke-width',1).attr('stroke-dasharray','1,2');
  gl.append('g').selectAll('circle').data(pts).join('circle')
    .attr('cx',d=>x(d[2])).attr('cy',d=>y(d[1])).attr('r',3.8)
    .attr('fill',d=>col(d[3])).attr('fill-opacity',0.8);
  gl.append('g').selectAll('line').data(fits).join('line')
    .attr('x1',x(lo)).attr('x2',x(hi)).attr('y1',d=>y(d[0]+d[1]*lo)).attr('y2',d=>y(d[0]+d[1]*hi))
    .attr('stroke','#505050').attr('stroke-opacity',0.75).attr('stroke-width',3.5);
  g.append('g').attr('transform',`translate(${R.x0},0)`)
    .call(d3.axisLeft(y).tickValues(logTicks).tickFormat(d3.format('d')).tickSize(8).tickSizeOuter(0).tickPadding(9))
    .call(styleAxis);
  g.append('g').attr('transform',`translate(0,${R.y1})`)
    .call(d3.axisBottom(x).tickValues(socialTicks).tickFormat(d=>socialLabels.includes(d)?d3.format('d')(d):'')
      .tickSize(8).tickSizeOuter(0).tickPadding(6))
    .call(styleAxis);
}
const RC = {x0:80.7, x1:290, y0:328, y1:544};
const RD = {x0:671, x1:881.7, y0:328, y1:538.3};
const xC = d3.scaleLinear().domain([-2,5]).range([87.7,283.3]);
const yC = d3.scaleLinear().domain([-2,5]).range([530,335]);
const xD = d3.scaleLinear().domain([-2,5]).range([679,874.3]);
const yD = d3.scaleLinear().domain([-2,5]).range([530.7,336]);
scatterPanel(leftPoints, leftFits, RC, xC, yC);
scatterPanel(rightPoints, rightFits, RD, xD, yD);
yTitle(36, 436, 'i');
yTitle(626, 435, 'i');
xTitleSocial(185.3, 596);
xTitleSocial(776.3, 595);

// ---- quantile panels ----
let gradN = 0;
function quantPanel(band, meds, axX, axY, x, y){
  const g = svg.append('g');
  meds.forEach(m=>{
    g.append('line').attr('x1',axX).attr('x2',x(m[1])).attr('y1',y(m[0])).attr('y2',y(m[0]))
      .attr('stroke','#555').attr('stroke-width',1).attr('stroke-dasharray','1,2');
    g.append('line').attr('x1',x(m[1])).attr('x2',x(m[1])).attr('y1',y(m[0])).attr('y2',axY-2)
      .attr('stroke','#555').attr('stroke-width',1).attr('stroke-dasharray','1,2');
  });
  const pmin = d3.min(band,d=>d[0]), pmax = d3.max(band,d=>d[0]);
  const gid = 'qg' + (gradN++);
  const grad = defs.append('linearGradient').attr('id',gid).attr('gradientUnits','userSpaceOnUse')
    .attr('x1',0).attr('x2',0).attr('y1',y(pmin)).attr('y2',y(pmax));
  band.forEach(r=>grad.append('stop').attr('offset',(r[0]-pmin)/(pmax-pmin)).attr('stop-color',col((r[1]+r[2])/2)));
  const area = d3.area().y(d=>y(d[0])).x0(d=>x(d[1])).x1(d=>x(d[2])).curve(d3.curveMonotoneY);
  g.append('path').datum(band).attr('d',area).attr('fill',`url(#${gid})`).attr('fill-opacity',0.95);
  meds.forEach(m=>{
    const x0 = x(m[1]) + 20.5, b = y(m[0]) - 5.5;
    betaTilde(g, x0+4.5, b, 15.5, b-14.5, 15);
    g.append('text').attr('x',x0+12.5).attr('y',b).attr('font-size',15.5).attr('fill','#111')
      .text('= ' + d3.format('.3f')(m[1]));
  });
  g.append('g').attr('transform',`translate(${axX},0)`)
    .call(d3.axisLeft(y).tickValues(probTicks).tickFormat(d3.format('.2f')).tickSize(8).tickSizeOuter(0).tickPadding(10))
    .call(styleAxis);
  g.append('g').attr('transform',`translate(0,${axY})`)
    .call(d3.axisBottom(x).tickValues(betaTicks).tickFormat((d,i)=>betaTickLabels[i]).tickSize(8).tickSizeOuter(0).tickPadding(6.5))
    .call(styleAxis);
  betaTilde(svg, x(0.5)+0.5, 593, 24, 570, 18);
}
const yE = d3.scaleLinear().domain([0,1]).range([531,336]);
const xE1 = d3.scaleLinear().domain([-0.5,1.5]).range([379.7,575]);
const xE2 = d3.scaleLinear().domain([-0.5,1.5]).range([970,1165.7]);
quantPanel(leftBand, leftMedians, 371.7, 538.3, xE1, yE);
quantPanel(rightBand, rightMedians, 962.7, 538.3, xE2, yE);

// ---- colour bar ----
const cy = d3.scaleLinear().domain([-0.5,1.5]).range([558,93]);
const cg = defs.append('linearGradient').attr('id','cbar').attr('gradientUnits','userSpaceOnUse')
  .attr('x1',0).attr('x2',0).attr('y1',cy(-0.5)).attr('y2',cy(1.5));
colorStops.forEach((s,i)=>cg.append('stop').attr('offset',(s+0.5)/2).attr('stop-color',colorValues[i]));
svg.append('rect').attr('x',1255).attr('width',16).attr('y',cy(1.54)).attr('height',cy(-0.54)-cy(1.54)).attr('fill','url(#cbar)');
const cax = svg.append('g').attr('transform','translate(1290,0)')
  .call(d3.axisRight(cy).tickValues(scaleTicks).tickFormat((d,i)=>scaleTickLabels[i]).tickSize(6).tickSizeOuter(0).tickPadding(6));
cax.attr('font-size',11).attr('font-family',SANS);
cax.select('.domain').attr('stroke','#888').attr('stroke-width',1.5);
cax.selectAll('.tick line').attr('stroke','#888').attr('stroke-width',1.5);
cax.selectAll('.tick text').attr('fill','#444');
betaTilde(svg, 1238.5, 593, 21, 575, 16);
svg.append('text').attr('x',1249).attr('y',596).attr('font-size',20).attr('fill','#111').text('scale');
</script>
</body>
</html>
